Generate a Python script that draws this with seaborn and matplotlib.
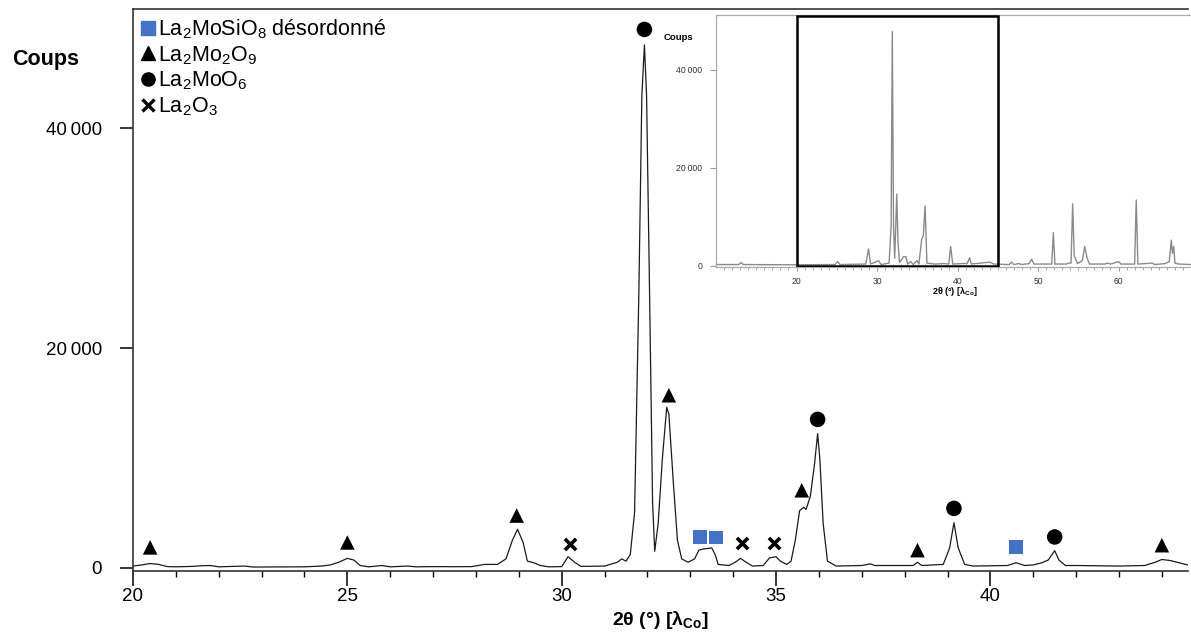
import matplotlib
matplotlib.use("Agg")
import matplotlib.pyplot as plt
from matplotlib.lines import Line2D
from matplotlib.patches import Rectangle
import seaborn as sns
import pandas as pd

# ---------------- data ----------------
# main diffractogram (2theta, counts)
two_theta = [20.0, 20.2, 20.4, 20.6, 20.8, 21.0, 21.4, 21.6, 21.8, 22.0, 22.6, 22.8,
             24.0, 24.4, 24.6, 24.8, 25.0, 25.15, 25.3, 25.5, 25.8, 26.0, 26.4, 26.6, 27.0, 27.5,
             27.9, 28.2, 28.5, 28.7, 28.85, 28.97, 29.1, 29.2, 29.35, 29.5, 29.7, 30.0,
             30.15, 30.3, 30.45, 31.0, 31.3, 31.4, 31.5, 31.6, 31.7, 31.8, 31.87, 31.93,
             31.98, 32.05, 32.12, 32.17, 32.25, 32.35, 32.45, 32.5, 32.6, 32.7, 32.8, 32.95,
             33.1, 33.2, 33.3, 33.5, 33.58, 33.65, 33.9, 34.05, 34.17, 34.3, 34.45, 34.7,
             34.85, 34.93, 35.0, 35.1, 35.25, 35.35, 35.45, 35.55, 35.65, 35.7, 35.8, 35.9,
             35.97, 36.02, 36.1, 36.2, 36.4, 37.0, 37.2, 37.3, 38.2, 38.3, 38.4, 38.9,
             39.05, 39.15, 39.25, 39.4, 39.6, 40.4, 40.6, 40.8, 41.0, 41.2, 41.35, 41.5,
             41.6, 41.75, 42.0, 43.0, 43.6, 43.85, 44.0, 44.2, 44.4, 44.65]
counts = [150, 250, 380, 300, 100, 80, 120, 180, 200, 80, 150, 60,
          80, 150, 250, 500, 850, 700, 200, 80, 200, 80, 150, 80, 100, 90,
          100, 300, 300, 800, 2500, 3500, 2300, 600, 450, 200, 80, 100,
          1000, 500, 120, 150, 500, 800, 600, 1200, 5000, 25000, 43000, 47600,
          43000, 25000, 6000, 1500, 4000, 10000, 14600, 14000, 8000, 2500, 800, 500,
          800, 1600, 1700, 1800, 1200, 300, 200, 500, 850, 500, 150, 200,
          900, 950, 1000, 600, 300, 600, 2500, 5200, 5500, 5300, 6500, 9500,
          12200, 10000, 4000, 600, 150, 200, 350, 200, 200, 500, 200, 300,
          1800, 4100, 1800, 300, 150, 200, 450, 200, 250, 450, 700, 1550,
          700, 200, 200, 150, 200, 500, 750, 650, 450, 200]

# full-range diffractogram shown in the inset
inset_theta = [10, 12.8, 13.1, 13.4, 20, 24.8, 25.1, 25.4, 28.6, 28.95, 29.2, 30.2, 30.5,
               31.5, 31.75, 31.9, 32.05, 32.2, 32.45, 32.6, 32.8, 33.3, 33.6, 33.8, 34.2,
               34.5, 34.95, 35.2, 35.55, 35.75, 35.97, 36.2, 37.2, 38.3, 38.9, 39.15, 39.4,
               40.6, 41.2, 41.5, 41.7, 44.0, 44.5, 46.4, 46.7, 47.0, 47.6, 48.0, 48.9,
               49.2, 49.5, 51.7, 51.9, 52.1, 53.5, 53.8, 54.1, 54.3, 54.5, 54.9, 55.5,
               55.8, 56.1, 56.4, 58.3, 58.6, 59.0, 60.0, 60.3, 62.0, 62.2, 62.4, 64.2,
               64.5, 65.8, 66.3, 66.55, 66.7, 66.85, 67.0, 67.5, 69]
inset_counts = [200, 200, 600, 200, 150, 200, 800, 200, 300, 3400, 300, 1000, 200,
                500, 8000, 47800, 8000, 1500, 14600, 5000, 600, 1800, 1800, 300, 800,
                200, 1000, 300, 5400, 6000, 12200, 500, 300, 400, 300, 3900, 300,
                400, 400, 1600, 300, 700, 300, 200, 700, 200, 400, 200, 400,
                1300, 300, 300, 6700, 300, 300, 500, 500, 12600, 2000, 400, 1000,
                3900, 1500, 300, 300, 500, 300, 800, 300, 300, 13400, 300, 500,
                200, 400, 800, 5200, 2500, 3900, 500, 300, 200]

# phase markers
phase_names = [r"La$_2$MoSiO$_8$ désordonné", r"La$_2$Mo$_2$O$_9$", r"La$_2$MoO$_6$", r"La$_2$O$_3$"]
square_x = [33.23, 33.61, 40.6]
square_y = [2800, 2750, 1850]
triangle_x = [20.4, 25.0, 28.95, 32.5, 35.6, 38.3, 44.0]
triangle_y = [1850, 2300, 4750, 15700, 7050, 1600, 2050]
circle_x = [31.93, 35.97, 39.15, 41.5]
circle_y = [49000, 13500, 5400, 2800]
cross_x = [30.2, 34.2, 34.95]
cross_y = [2150, 2250, 2250]

y_ticks = [0, 20000, 40000]
y_ticklabels = ["0", "20\u2009000", "40\u2009000"]
x_ticks = [20, 25, 30, 35, 40]
inset_xticks = [20, 30, 40, 50, 60]

# ---------------- style ----------------
sns.set_theme(style="white")
plt.rcParams["font.family"] = ["Liberation Sans", "DejaVu Sans"]
plt.rcParams["mathtext.default"] = "regular"
for k in ["text.color", "axes.labelcolor", "xtick.color", "ytick.color"]:
    plt.rcParams[k] = "black"

W, H = 1191, 634
fig = plt.figure(figsize=(W / 100, H / 100), dpi=100)

ax = fig.add_axes([133 / W, 1 - 571 / H, (1188 - 133) / W, (571 - 9) / H])
df = pd.DataFrame({"theta": two_theta, "counts": counts})
sns.lineplot(data=df, x="theta", y="counts", ax=ax, color="#1a1a1a", lw=0.9)

blue = "#4472C4"
sns.scatterplot(x=square_x, y=square_y, ax=ax, marker="s", s=100, color=blue, edgecolor="none", zorder=5)
sns.scatterplot(x=triangle_x, y=triangle_y, ax=ax, marker="^", s=110, color="black", edgecolor="none", zorder=5)
sns.scatterplot(x=circle_x, y=circle_y, ax=ax, marker="o", s=125, color="black", edgecolor="none", zorder=5)
ax.scatter(cross_x, cross_y, marker="x", s=65, color="black", linewidths=2.6, zorder=5)

ax.set_xlim(20, 44.61)
ax.set_ylim(-300, 50860)
ax.set_xticks(x_ticks)
ax.set_xticks(range(21, 45), minor=True)
ax.set_yticks(y_ticks)
ax.set_yticklabels(y_ticklabels)
ax.tick_params(axis="x", which="major", direction="out", length=11, width=1.1, pad=1.5,
               labelsize=13.5, colors="black", bottom=True)
ax.tick_params(axis="x", which="minor", direction="out", length=4, width=1.0, bottom=True,
               colors="black")
ax.tick_params(axis="y", direction="out", length=9.5, width=1.1, pad=13, labelsize=13.5,
               left=True, colors="black")
for s in ["left", "bottom", "top"]:
    ax.spines[s].set_color("#333333")
    ax.spines[s].set_linewidth(1.2)
ax.spines["right"].set_visible(False)
ax.set_xlabel("")
ax.set_ylabel("")
ax.grid(False)

fig.text(660 / W, 1 - 620 / H, r"2θ (°) [λ$_{Co}$]", ha="center", va="center",
         fontsize=14, fontweight="bold")
fig.text(46 / W, 1 - 60 / H, "Coups", ha="center", va="center", fontsize=15.5, fontweight="bold")

handles = [
    Line2D([], [], marker="s", ls="", color=blue, markersize=9.5),
    Line2D([], [], marker="^", ls="", color="black", markersize=9.5),
    Line2D([], [], marker="o", ls="", color="black", markersize=9.5),
    Line2D([], [], marker="x", ls="", color="black", markersize=8.5, markeredgewidth=2.4),
]
ax.legend(handles, phase_names, loc="upper left", bbox_to_anchor=(0.0, 0.997), frameon=False,
          fontsize=15.5, handlelength=0.75, handletextpad=0.12, labelspacing=0.15,
          borderaxespad=0.2, borderpad=0.1)

# ---------------- inset ----------------
ins = fig.add_axes([716 / W, 1 - 267 / H, (1191 - 716) / W, (267 - 15) / H])
ins.set_facecolor("white")
sns.lineplot(x=inset_theta, y=inset_counts, ax=ins, color="#8a8a8a", lw=1.0)
ins.set_xlim(10, 69)
ins.set_ylim(-300, 51160)
ins.add_patch(Rectangle((20, 0), 25, 51000, fill=False, edgecolor="black", lw=1.8, zorder=6))
ins.set_xticks(inset_xticks)
ins.set_xticks(range(11, 69), minor=True)
ins.set_yticks(y_ticks)
ins.set_yticklabels(y_ticklabels)
ins.tick_params(axis="x", which="major", direction="out", length=3, width=0.8, pad=4,
                labelsize=6.2, colors="#999999", labelcolor="#333333", bottom=True)
ins.tick_params(axis="x", which="minor", direction="out", length=2, width=0.6,
                colors="#999999", bottom=True)
ins.tick_params(axis="y", direction="out", length=4, width=0.8, pad=6, labelsize=6.2,
                colors="#999999", labelcolor="#333333", left=True)
for s in ["left", "bottom", "top"]:
    ins.spines[s].set_color("#aaaaaa")
    ins.spines[s].set_linewidth(0.9)
ins.spines["right"].set_visible(False)
ins.set_xlabel("")
ins.set_ylabel("")
ins.grid(False)
fig.text(678 / W, 1 - 38 / H, "Coups", ha="center", va="center", fontsize=6.8, fontweight="bold")
fig.text(955 / W, 1 - 291 / H, r"2θ (°) [λ$_{Co}$]", ha="center", va="center",
         fontsize=6.5, fontweight="bold")

fig.savefig("out.png", dpi=100)
